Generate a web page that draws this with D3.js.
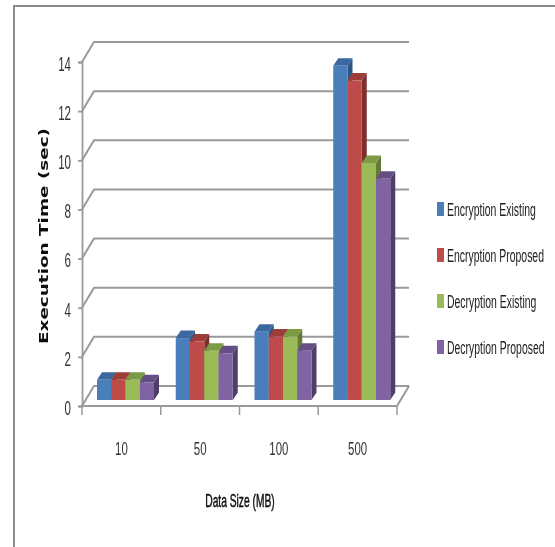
<!DOCTYPE html>
<html>
<head>
<meta charset="utf-8">
<script src="https://cdn.jsdelivr.net/npm/d3@7"></script>
<style>
html, body { margin: 0; padding: 0; background: #fff; }
svg { display: block; }
</style>
</head>
<body>
<svg width="555" height="547"></svg>
<script>
const categories = ["10", "50", "100", "500"];
const seriesNames = ["Encryption Existing", "Encryption Proposed", "Decryption Existing", "Decryption Proposed"];
const encExisting = [0.82, 2.52, 2.78, 13.6];
const encProposed = [0.82, 2.38, 2.58, 13.0];
const decExisting = [0.82, 2.0, 2.58, 9.65];
const decProposed = [0.72, 1.9, 2.0, 9.0];
const tickValues = [0, 2, 4, 6, 8, 10, 12, 14];

const allSeries = [encExisting, encProposed, decExisting, decProposed];
const fronts = ["#4a7ebb", "#be4b48", "#9bbb59", "#8064a2"];
const tops = ["#3a679e", "#9c3c39", "#7d9a45", "#654e85"];
const sides = ["#2f5684", "#7f2f2d", "#627a35", "#4f3c6a"];

const dx = 12, dy = 20;        // depth of the chart floor
const barDx = 5, barDy = 7.5;  // depth of a bar
const baseShift = 6;           // bars stand a bit back from the front edge

const svg = d3.select("svg");
const defs = svg.append("defs");
defs.append("filter").attr("id", "soft")
    .attr("x", "-5%").attr("y", "-5%").attr("width", "110%").attr("height", "110%")
    .append("feGaussianBlur").attr("stdDeviation", 0.7);

const g = svg.append("g").attr("filter", "url(#soft)");

const yScale = d3.scaleLinear().domain([0, 14]).range([406, 62]);
const xScale = d3.scaleBand().domain(categories).range([82, 397]);
const barScale = d3.scaleBand().domain(d3.range(4)).range([15, 72]);

// picture frame, top and left only
g.append("path").attr("d", "M14,547V6H555").attr("fill", "none")
    .attr("stroke", "#8c8c8c").attr("stroke-width", 2);

const gridColor = "#9a9a9a";

// floor and back wall gridlines
g.selectAll(".grid").data(tickValues).enter().append("path")
    .attr("class", "grid")
    .attr("fill", "none").attr("stroke", gridColor).attr("stroke-width", 2)
    .attr("d", function(d) {
        const y = yScale(d);
        return "M82," + y + "L" + (82 + dx) + "," + (y - dy) + "H" + (397 + dx);
    });
g.append("path")
    .attr("d", "M" + (397 + dx) + "," + (yScale(0) - dy) + "L397," + yScale(0) + "H82")
    .attr("fill", "none").attr("stroke", gridColor).attr("stroke-width", 2);

// y axis
const yAxis = g.append("g").attr("transform", "translate(82,0)")
    .call(d3.axisLeft(yScale).tickValues(tickValues).tickSize(4).tickFormat(""));
yAxis.select(".domain").attr("stroke", gridColor).attr("stroke-width", 1.8);
yAxis.selectAll("line").attr("stroke", gridColor).attr("stroke-width", 1.8);

// x axis ticks
const xEdges = categories.map(function(c) { return xScale(c); }).concat([397]);
g.selectAll(".xtick").data(xEdges).enter().append("line")
    .attr("x1", function(d) { return d; }).attr("x2", function(d) { return d; })
    .attr("y1", yScale(0)).attr("y2", yScale(0) + 9)
    .attr("stroke", gridColor).attr("stroke-width", 1.5);

// 3D bars, drawn left to right so each one overlaps the side of the last
categories.forEach(function(cat, ci) {
    allSeries.forEach(function(values, si) {
        const x0 = xScale(cat) + barScale(si);
        const w = barScale.bandwidth();
        const base = yScale(0) - baseShift;
        const top = yScale(values[ci]) - baseShift;
        g.append("path").attr("fill", sides[si])
            .attr("d", "M" + (x0 + w) + "," + top + "l" + barDx + "," + (-barDy) + "V" + (base - barDy) + "L" + (x0 + w) + "," + base + "Z");
        g.append("path").attr("fill", tops[si])
            .attr("d", "M" + x0 + "," + top + "l" + barDx + "," + (-barDy) + "h" + w + "l" + (-barDx) + "," + barDy + "Z");
        g.append("rect").attr("fill", fronts[si])
            .attr("x", x0).attr("y", top).attr("width", w).attr("height", base - top);
    });
});

// condensed text: the original is squeezed horizontally
function label(x, y, str, size, sx, anchor) {
    return g.append("text")
        .attr("transform", "translate(" + x + "," + y + ") scale(" + sx + ",1)")
        .attr("font-family", "Liberation Sans")
        .attr("font-size", size)
        .attr("text-anchor", anchor)
        .attr("dominant-baseline", "central")
        .attr("fill", "#333")
        .text(str);
}

tickValues.forEach(function(t) {
    label(71, yScale(t) + 2, String(t), 21, 0.55, "end");
});
categories.forEach(function(c) {
    label(xScale(c) + xScale.bandwidth() / 2, 448, c, 19, 0.6, "middle");
});

label(240, 500, "Data Size (MB)", 19, 0.54, "middle")
    .attr("fill", "#111").attr("stroke", "#111").attr("stroke-width", 0.5);

g.append("text")
    .attr("transform", "translate(44,236) rotate(-90) scale(1.6,1)")
    .attr("font-family", "DejaVu Sans")
    .attr("font-weight", "bold")
    .attr("font-size", 11.5)
    .attr("text-anchor", "middle")
    .attr("dominant-baseline", "central")
    .attr("fill", "#111")
    .text("Execution Time (sec)");

// legend
const legendY = d3.scalePoint().domain(seriesNames).range([209, 347]);
seriesNames.forEach(function(name, i) {
    g.append("rect").attr("x", 437).attr("y", legendY(name) - 7)
        .attr("width", 7).attr("height", 14).attr("fill", fronts[i]);
    label(447, legendY(name), name, 19, 0.55, "start").attr("fill", "#222");
});
</script>
</body>
</html>
